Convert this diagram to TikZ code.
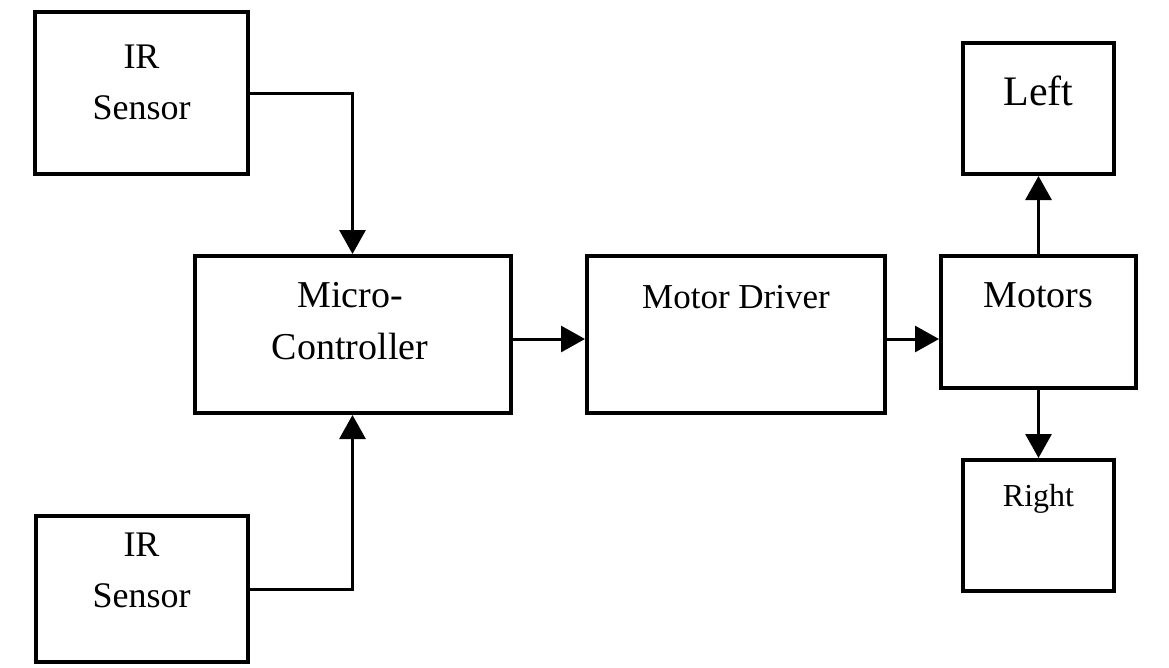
\documentclass[tikz,border=0pt]{standalone}
\usepackage{fontspec}
\setmainfont{Liberation Serif}
\usetikzlibrary{arrows.meta}
\begin{document}
\begin{tikzpicture}[x=1pt,y=-1pt,
  box/.style={draw, line width=4pt, inner sep=0pt, rectangle},
  txt/.style={align=center, inner sep=0pt},
  conn/.style={line width=3pt, -{Triangle[length=24pt,width=26pt]}}]
\fill[white] (0,0) rectangle (1169,667);
\useasboundingbox (0,0) rectangle (1169,667);
% boxes
\node[box, minimum width=213pt, minimum height=162pt] (ir1) at (141.5,93) {};
\node[box, minimum width=212pt, minimum height=146pt] (ir2) at (141.5,589) {};
\node[box, minimum width=316pt, minimum height=157pt] (micro) at (352.5,334.5) {};
\node[box, minimum width=298pt, minimum height=157pt] (driver) at (736,334.5) {};
\node[box, minimum width=195pt, minimum height=132pt] (motors) at (1038.5,322) {};
\node[box, minimum width=151pt, minimum height=131pt] (left) at (1038.5,108.5) {};
\node[box, minimum width=151pt, minimum height=131pt] (right) at (1038.5,525.5) {};
% texts
\node[txt, font=\fontsize{36}{51}\selectfont] (ir1t) at (141.5,82) {IR\\Sensor};
\node[txt, font=\fontsize{36}{51}\selectfont] (ir2t) at (141.5,570) {IR\\Sensor};
\node[txt, font=\fontsize{38}{52}\selectfont] (microt) at (350,321) {Micro-\\Controller};
\node[txt, font=\fontsize{35}{42}\selectfont] (drivert) at (736,297) {Motor Driver};
\node[txt, font=\fontsize{38}{42}\selectfont] (motorst) at (1038.5,295) {Motors};
\node[txt, font=\fontsize{42}{46}\selectfont] (leftt) at (1038.5,91) {Left};
\node[txt, font=\fontsize{32}{38}\selectfont] (rightt) at (1038.5,499) {Right};
% connectors
\draw[conn] (ir1.east) -| (micro.north);
\draw[conn] (ir2.east) -| (micro.south);
\draw[conn] (micro.east |- 0,339) -- (driver.west |- 0,339);
\draw[conn] (driver.east |- 0,339) -- (motors.west |- 0,339);
\draw[conn] (motors.north) -- (left.south);
\draw[conn] (motors.south) -- (right.north);
\end{tikzpicture}
\end{document}
